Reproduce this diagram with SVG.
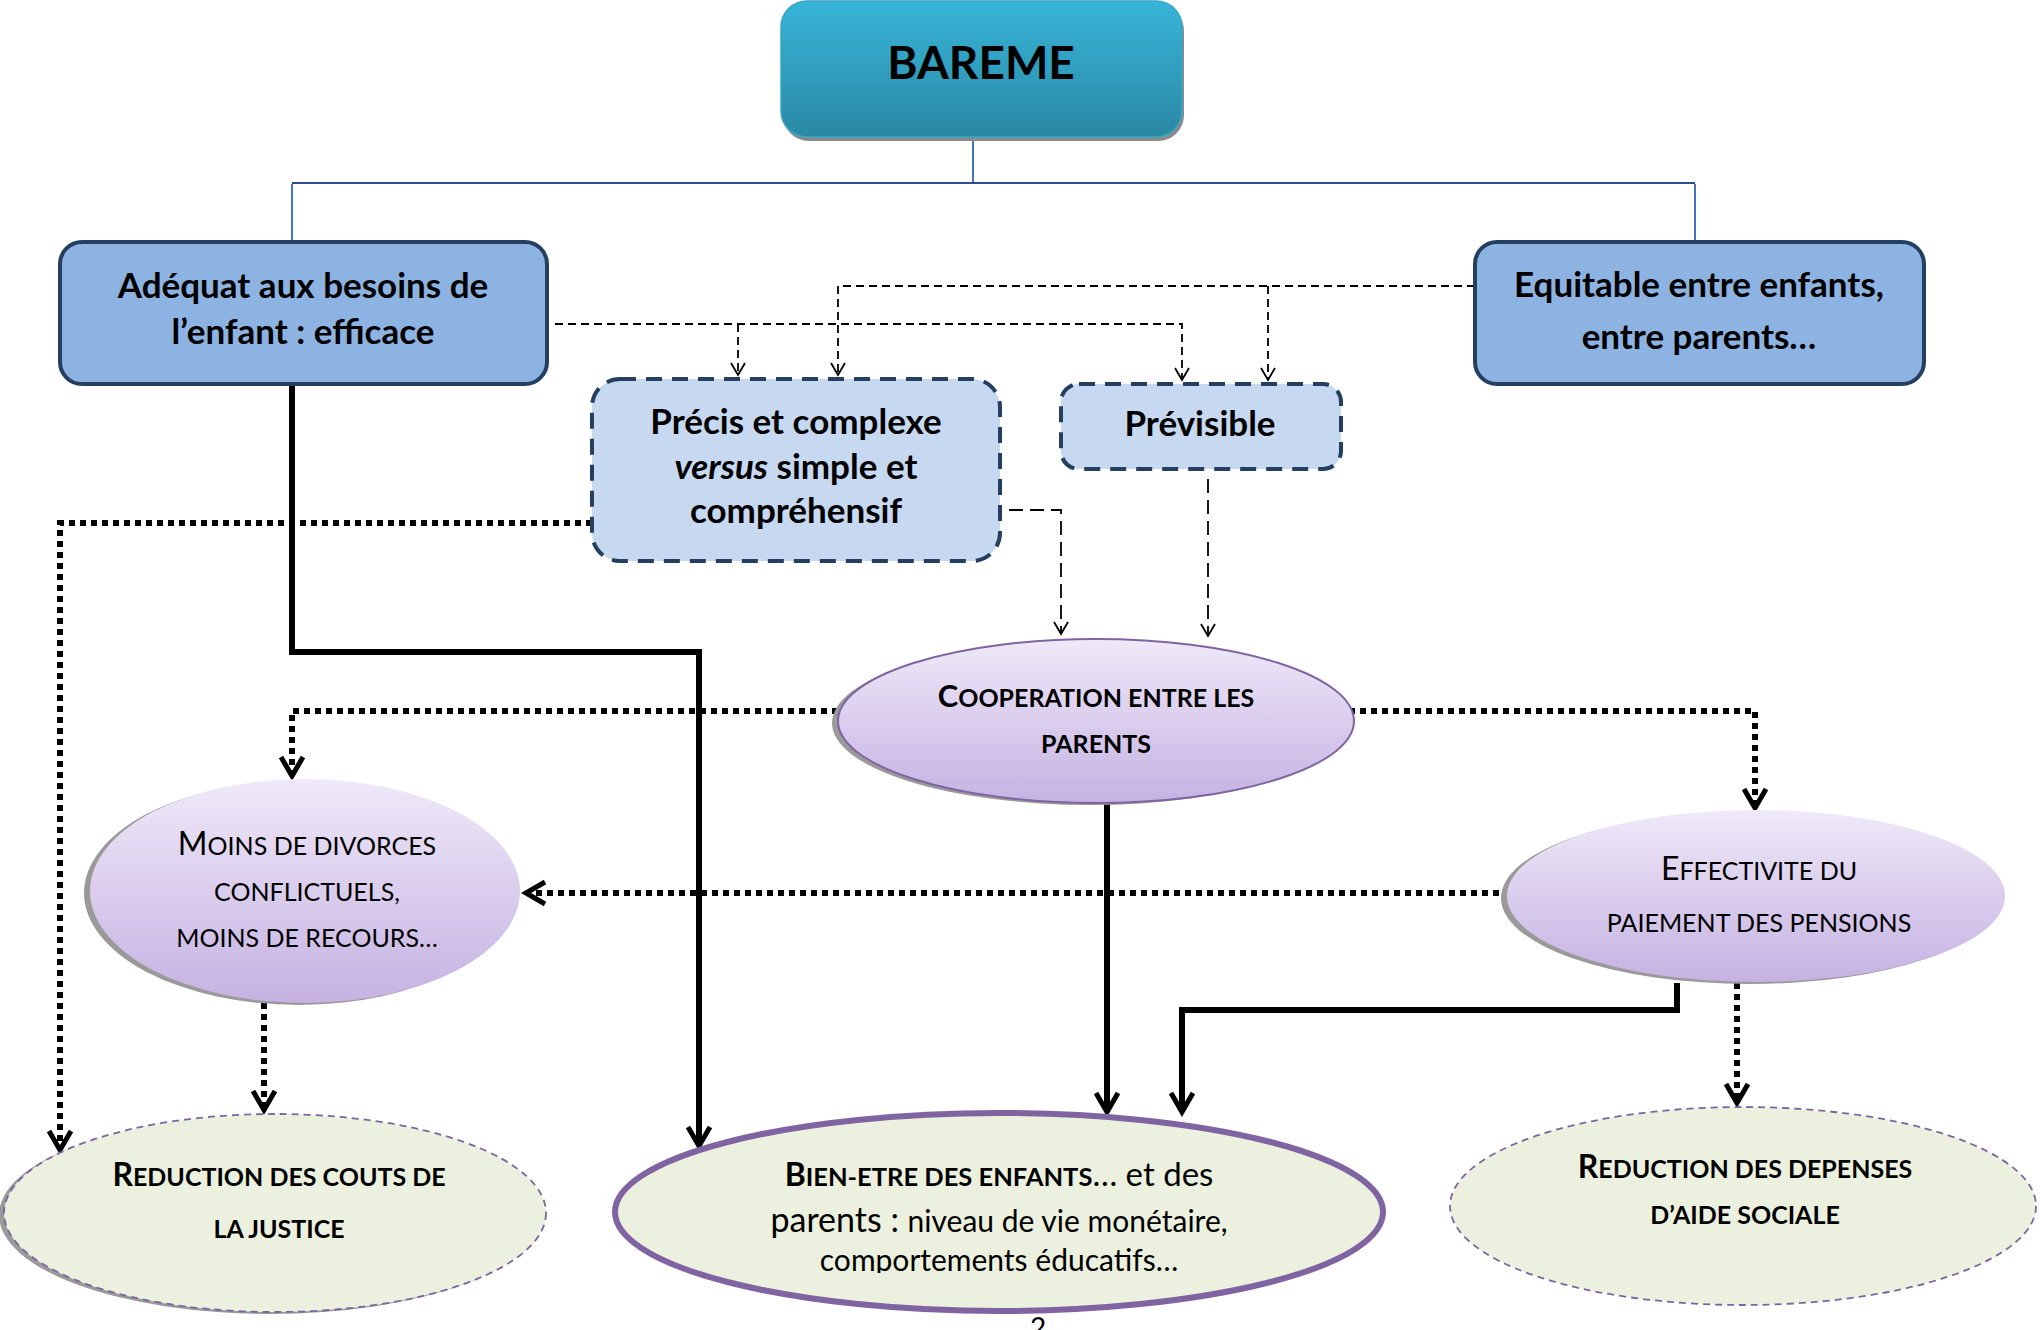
<svg xmlns="http://www.w3.org/2000/svg" width="2040" height="1330" viewBox="0 0 2040 1330">
<defs>
<linearGradient id="gBar" x1="0" y1="0" x2="0" y2="1"><stop offset="0" stop-color="#38b5d9"/><stop offset="1" stop-color="#2a88a4"/></linearGradient>
<linearGradient id="gPur" x1="0" y1="0" x2="0" y2="1"><stop offset="0" stop-color="#efe9f8"/><stop offset="1" stop-color="#c5b2e2"/></linearGradient>
<marker id="aThin" markerUnits="userSpaceOnUse" viewBox="-14 -9 16 18" refX="0" refY="0" markerWidth="16" markerHeight="18" orient="auto" overflow="visible"><path d="M-12,-7 L0,0 L-12,7" fill="none" stroke="#000" stroke-width="1.8"/></marker>
<marker id="aThick" markerUnits="userSpaceOnUse" viewBox="-22 -14 26 28" refX="0" refY="0" markerWidth="26" markerHeight="28" orient="auto" overflow="visible"><path d="M-19,-11 L0,0 L-19,11" fill="none" stroke="#000" stroke-width="5"/></marker>
<clipPath id="clipBien"><rect x="600" y="1140" width="800" height="133"/></clipPath>
</defs>
<style>
text{font-family:Lato,"Liberation Sans",sans-serif;fill:#000;text-anchor:middle}
.b{font-weight:bold}
.box{fill:#8db3e2;stroke:#243f60;stroke-width:4}
.dbox{fill:#c6d9f1;stroke:#243f60;stroke-width:4;stroke-dasharray:16 10}
.pur{fill:url(#gPur);stroke:#8064a2;stroke-width:2}
.grn{fill:#ebf1de;stroke:#8064a2;stroke-width:1.8;stroke-dasharray:7 5}
.shd{fill:#9a9a9a}
.tree{fill:none;stroke-width:2}
.thin{fill:none;stroke:#000;stroke-width:1.8;stroke-dasharray:8 5}
.thinL{fill:none;stroke:#000;stroke-width:1.8;stroke-dasharray:14 7}
.thick{fill:none;stroke:#000;stroke-width:6}
.dot{fill:none;stroke:#000;stroke-width:6;stroke-dasharray:6 5}
</style>
<rect width="2040" height="1330" fill="#fff"/>

<g id="connectors">
<path class="tree" stroke="#4472c4" d="M973,138 V184"/>
<path class="tree" stroke="#2e4d8f" d="M292,183 H1695"/>
<path class="tree" stroke="#4472c4" d="M292,184 V242 M1695,184 V242"/>

<path class="thin" d="M555,324 H1182 V380" marker-end="url(#aThin)"/>
<path class="thin" d="M738,324 V375" marker-end="url(#aThin)"/>
<path class="thin" d="M1475,286 H838 V375" marker-end="url(#aThin)"/>
<path class="thin" d="M1268,286 V380" marker-end="url(#aThin)"/>
<path class="thinL" d="M1009,510 H1061 V634" marker-end="url(#aThin)"/>
<path class="thinL" d="M1208,479 V636" marker-end="url(#aThin)"/>

<path class="thick" d="M292,384 V652 H699 V1146" marker-end="url(#aThick)"/>
<path class="thick" d="M1107,803 V1112" marker-end="url(#aThick)"/>
<path class="thick" d="M1677,983 V1010 H1182 V1112" marker-end="url(#aThick)"/>

<path class="dot" d="M592,523 H60 V1150" marker-end="url(#aThick)"/>
<path class="dot" d="M838,711 H292 V776" marker-end="url(#aThick)"/>
<path class="dot" d="M1349,711 H1755 V808" marker-end="url(#aThick)"/>
<path class="dot" d="M1510,893 H526" marker-end="url(#aThick)"/>
<path class="dot" d="M264,1003 V1110" marker-end="url(#aThick)"/>
<path class="dot" d="M1737,983 V1103" marker-end="url(#aThick)"/>
</g>

<g id="bareme">
<rect x="783" y="5" width="401" height="136" rx="26" fill="#8a8a8a"/>
<rect x="781" y="1" width="401" height="136" rx="26" fill="url(#gBar)" stroke="#3aa6c6" stroke-width="1.5"/>
<text class="b" x="981" y="79" font-size="46">BAREME</text>
</g>

<g id="adequat">
<rect class="box" x="60" y="242" width="487" height="142" rx="22"/>
<text class="b" x="303" y="298" font-size="35">Adéquat aux besoins de</text>
<text class="b" x="303" y="344" font-size="35">l’enfant : efficace</text>
</g>

<g id="equitable">
<rect class="box" x="1475" y="242" width="449" height="142" rx="22"/>
<text class="b" x="1699" y="297" font-size="35">Equitable entre enfants,</text>
<text class="b" x="1699" y="349" font-size="35">entre parents…</text>
</g>

<g id="precis">
<rect class="dbox" x="592" y="379" width="408" height="182" rx="28"/>
<text class="b" x="796" y="434" font-size="35">Précis et complexe</text>
<text class="b" x="796" y="479" font-size="35"><tspan font-style="italic">versus</tspan> simple et</text>
<text class="b" x="796" y="523" font-size="35">compréhensif</text>
</g>

<g id="previsible">
<rect class="dbox" x="1061" y="384" width="280" height="85" rx="18"/>
<text class="b" x="1200" y="436" font-size="35">Prévisible</text>
</g>

<g id="cooperation">
<ellipse class="shd" cx="1090" cy="723" rx="258" ry="82"/>
<ellipse class="pur" cx="1096" cy="721" rx="258" ry="82"/>
<text class="b" x="1096" y="707"><tspan font-size="31">C</tspan><tspan font-size="25">OOPERATION ENTRE LES</tspan></text>
<text class="b" x="1096" y="753" font-size="25">PARENTS</text>
</g>

<g id="moins">
<ellipse class="shd" cx="299" cy="893" rx="215" ry="112"/>
<ellipse cx="305" cy="891" rx="215" ry="112" fill="url(#gPur)"/>
<text x="307" y="855"><tspan font-size="32">M</tspan><tspan font-size="25">OINS DE DIVORCES</tspan></text>
<text x="307" y="901" font-size="25">CONFLICTUELS,</text>
<text x="307" y="947" font-size="25">MOINS DE RECOURS…</text>
</g>

<g id="effectivite">
<ellipse class="shd" cx="1750" cy="898" rx="249" ry="86"/>
<ellipse cx="1756" cy="896" rx="249" ry="86" fill="url(#gPur)"/>
<text x="1759" y="880"><tspan font-size="32">E</tspan><tspan font-size="25">FFECTIVITE DU</tspan></text>
<text x="1759" y="932" font-size="25">PAIEMENT DES PENSIONS</text>
</g>

<g id="couts">
<ellipse class="shd" cx="270" cy="1215" rx="271" ry="99"/>
<ellipse class="grn" cx="275" cy="1213" rx="271" ry="99"/>
<text class="b" x="279" y="1186"><tspan font-size="32">R</tspan><tspan font-size="25">EDUCTION DES COUTS DE</tspan></text>
<text class="b" x="279" y="1238" font-size="25">LA JUSTICE</text>
</g>

<g id="bienetre">
<ellipse cx="999" cy="1212" rx="384" ry="99" fill="#ebf1de" stroke="#8064a2" stroke-width="6"/>
<g clip-path="url(#clipBien)">
<text x="999" y="1186"><tspan class="b" font-size="32">B</tspan><tspan class="b" font-size="25.5">IEN-ETRE DES ENFANTS</tspan><tspan font-size="33">… et des</tspan></text>
<text x="999" y="1232"><tspan font-size="34">parents : </tspan><tspan font-size="30">niveau de vie monétaire,</tspan></text>
<text x="999" y="1271" font-size="30">comportements éducatifs…</text>
</g>
</g>

<g id="depenses">
<ellipse class="grn" cx="1743" cy="1206" rx="293" ry="99"/>
<text class="b" x="1745" y="1178"><tspan font-size="32">R</tspan><tspan font-size="25">EDUCTION DES DEPENSES</tspan></text>
<text class="b" x="1745" y="1224" font-size="25">D’AIDE SOCIALE</text>
</g>

<text id="pagenum" x="1038" y="1338" font-size="28">2</text>
</svg>
